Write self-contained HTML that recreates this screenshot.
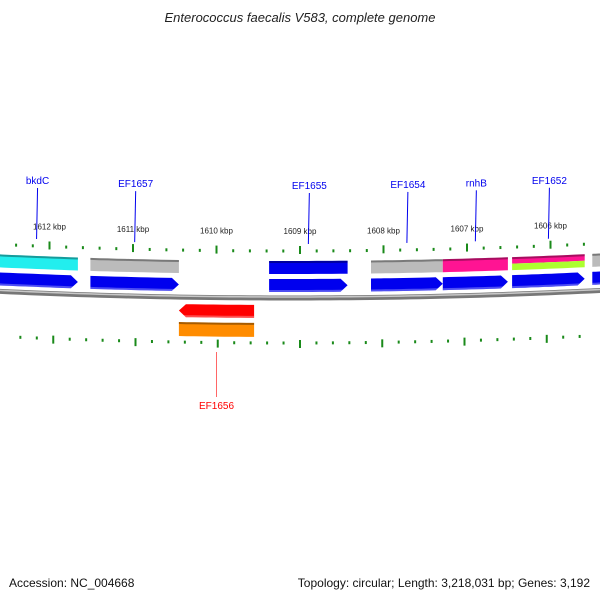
<!DOCTYPE html>
<html><head><meta charset="utf-8">
<style>
html,body{margin:0;padding:0;background:#fff;}
svg{display:block;font-family:"Liberation Sans","DejaVu Sans",sans-serif;}
</style></head>
<body>
<svg id="map" width="600" height="600" viewBox="0 0 600 600">
<rect width="600" height="600" fill="#fff"/>
<text x="300" y="22" text-anchor="middle" font-size="13" font-style="italic" fill="#222">Enterococcus faecalis V583, complete genome</text>
<text x="9" y="587" font-size="12" fill="#111">Accession: NC_004668</text>
<text x="590" y="587" text-anchor="end" font-size="12" fill="#111">Topology: circular; Length: 3,218,031 bp; Genes: 3,192</text>
<g id="layer"></g>
</svg>
<script>
// ---- data ----
const kbpTicks = [1612, 1611, 1610, 1609, 1608, 1607, 1606];
const geneNames = ["bkdC", "EF1657", "EF1655", "EF1654", "rnhB", "EF1652", "next-gene", "EF1656"];
const geneStart = [1612.65, 1611.51, 1609.37, 1608.15, 1607.29, 1606.46, 1605.50, 1610.45];
const geneEnd   = [1611.66, 1610.45, 1608.43, 1607.29, 1606.51, 1605.59, 1605.30, 1609.55];
const geneStrand = [1, 1, 1, 1, 1, 1, 1, -1];
const geneCog = ["#22eeee", "#bbbbbb", "#0000ee", "#bbbbbb", "#ff1493", "#ff1493|#adff2f", "#bbbbbb", "#ff8c00"];
const geneLabeled = [true, true, true, true, true, true, false, true];

// ---- scales ----
const PX_PER_KBP = 83.5;
function xScale(kbp){ return 300 - (kbp - 1609) * PX_PER_KBP; }
function arcY(x, off){ return 298 - (x - 290) * (x - 290) / 12800 + off; }

const NS = "http://www.w3.org/2000/svg";
const layer = document.getElementById("layer");
function mk(tag, attrs){ const e = document.createElementNS(NS, tag); for (const k in attrs) e.setAttribute(k, attrs[k]); layer.appendChild(e); return e; }

function bandPts(x1, x2, o1, o2, arrow){
  const pts = [];
  const n = 10;
  const head = 7;
  let a = Math.min(x1, x2), b = Math.max(x1, x2);
  let bodyA = a, bodyB = b;
  if (arrow === 1) bodyB = b - head;
  if (arrow === -1) bodyA = a + head;
  for (let i = 0; i <= n; i++){ const x = bodyA + (bodyB - bodyA) * i / n; pts.push([x, arcY(x, o1)]); }
  if (arrow === 1) pts.push([b, arcY(b, (o1 + o2) / 2)]);
  for (let i = n; i >= 0; i--){ const x = bodyA + (bodyB - bodyA) * i / n; pts.push([x, arcY(x, o2)]); }
  if (arrow === -1) pts.push([a, arcY(a, (o1 + o2) / 2)]);
  return pts.map(p => p[0].toFixed(1) + "," + p[1].toFixed(1)).join(" ");
}
function linePts(o){ const p = []; for (let x = -10; x <= 610; x += 10) p.push(x + "," + arcY(x, o).toFixed(1)); return p.join(" "); }

// backbone
let bb = mk("polyline", {points: linePts(0), fill: "none", stroke: "#777", "stroke-width": 5});


let bb2 = mk("polyline", {points: linePts(-1), fill: "none", stroke: "#c8c8c8", "stroke-width": 1.5});



// ticks
for (let k = 1613; k >= 1605; k -= 0.2){
  const kk = Math.round(k * 10) / 10;
  const x = xScale(kk);
  if (x < 5 || x > 595) continue;
  const major = Math.abs(kk - Math.round(kk)) < 0.01;
  const yo = arcY(x, -47), yi = arcY(x, 45);
  const t1 = mk("rect", {x: x - 1, y: major ? yo - 5 : yo - 1.5, width: 2, height: major ? 8 : 3, fill: "#1a8a1a"});
  
  
  const xi = 300 + (x - 300) * 0.985;
  const t2 = mk("rect", {x: xi - 1, y: major ? arcY(xi, 45) - 3 : arcY(xi, 45) - 1.5, width: 2, height: major ? 8 : 3, fill: "#1a8a1a"});
  
  
}
kbpTicks.forEach(k => {
  const x = xScale(k);
  const t = mk("text", {x: x, y: arcY(x, -64), "text-anchor": "middle", "font-size": 8, fill: "#222"});
  t.textContent = k + " kbp";
  
  
});

// genes
geneNames.forEach((name, i) => {
  const xa = xScale(geneStart[i]), xb = xScale(geneEnd[i]);
  const s = geneStrand[i];
  const cogO = s === 1 ? [-37, -24] : [25, 39];
  const arrO = s === 1 ? [-19, -6] : [7, 20];
  const cols = geneCog[i].split("|");
  if (cols.length === 1){
    const c = mk("polygon", {points: bandPts(xa, xb, cogO[0], cogO[1], 0), fill: cols[0]});
    
    
  } else {
    const mid = (cogO[0] + cogO[1]) / 2;
    const c1 = mk("polygon", {points: bandPts(xa, xb, cogO[0], mid, 0), fill: cols[0]});
    
    
    const c2 = mk("polygon", {points: bandPts(xa, xb, mid, cogO[1], 0), fill: cols[1]});
    
    
  }
  const sh = mk("polygon", {points: bandPts(xa, xb, cogO[0], cogO[0] + 2, 0), fill: "rgba(0,0,0,0.35)"});
  
  
  const arrColor = s === 1 ? "#0000ee" : "#ff0000";
  const a = mk("polygon", {points: bandPts(xa, xb, arrO[0], arrO[1], s), fill: arrColor});
  
  
  const sh2 = mk("polygon", {points: bandPts(xa, xb, arrO[1] - 2, arrO[1], 0), fill: "rgba(255,255,255,0.3)"});
  
  
  if (geneLabeled[i]){
    const xm = (xa + xb) / 2;
    const col = s === 1 ? "#0000ee" : "#ff0000";
    if (s === 1){
      const l = mk("line", {x1: xm, y1: arcY(xm, -54), x2: xm + 1, y2: arcY(xm, -105), stroke: col, "stroke-width": 1});
      
      
      const t = mk("text", {x: xm + 1, y: arcY(xm, -109), "text-anchor": "middle", "font-size": 10, fill: col});
      t.textContent = name;
      
      
    } else {
      const l = mk("line", {x1: xm, y1: 352, x2: xm, y2: 397, stroke: "#ff6666", "stroke-width": 1});
      
      
      const t = mk("text", {x: xm, y: 409, "text-anchor": "middle", "font-size": 10, fill: col});
      t.textContent = name;
      
      
    }
  }
});
</script>
</body></html>
